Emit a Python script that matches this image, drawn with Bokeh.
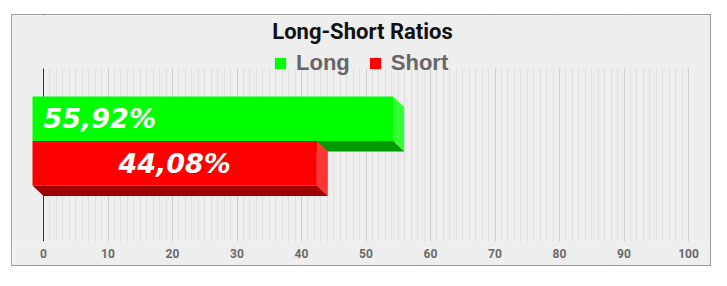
from bokeh.plotting import figure
from bokeh.models import Range1d, FixedTicker, Span, Label, Legend, LegendItem, BoxAnnotation
from bokeh.embed import file_html
from bokeh.resources import INLINE
from bokeh.core.properties import value

# ---- data ----
title_text = "Long-Short Ratios"
series = ["Long", "Short"]
ratios = [55.92, 44.08]
value_labels = ["55,92%", "44,08%"]
label_align = ["left", "center"]
front_colors = ["#00ff00", "#ff0000"]
side_colors = ["#33ff33", "#ff3434"]
bottom_colors = ["#009900", "#9e0000"]
major_ticks = list(range(0, 101, 10))
minor_ticks = list(range(0, 101, 1))

# ---- layout geometry ----
W, H = 700, 252
FRAME_BOTTOM = 26
FRAME_H = H - FRAME_BOTTOM          # frame covers whole box except the tick-label strip
GRID_TOP = FRAME_H - 53             # gridded plot area ends 53px below box top
ZERO_PX = 31
UNIT_PX = 6.45
x_start = -ZERO_PX / UNIT_PX
x_end = (W - ZERO_PX) / UNIT_PX
DEPTH_X = 11 / UNIT_PX
DEPTH_Y = 10.5
BAR_T = 44.5
SLOT_CENTER = 90.0

p = figure(width=W, height=H, x_range=Range1d(x_start, x_end), y_range=Range1d(0, FRAME_H),
           y_axis_location=None, toolbar_location=None, output_backend="svg", title_location=None,
           min_border_left=0, min_border_right=0, min_border_top=0, min_border_bottom=FRAME_BOTTOM,
           background_fill_color="#eeeeee", border_fill_color="#eeeeee", outline_line_color=None,
           margin=(14, 0, 0, 11), styles={"border": "1px solid #9c9c9c"})

ticker = FixedTicker(ticks=major_ticks, minor_ticks=minor_ticks)
p.xgrid.ticker = ticker
p.xgrid.grid_line_color = "#cdcdcd"
p.xgrid.minor_grid_line_color = "#dfdfdf"
p.ygrid.visible = False

ax = p.xaxis[0]
ax.ticker = ticker
ax.axis_line_color = None
ax.major_tick_line_color = None
ax.minor_tick_line_color = None
ax.major_tick_out = 0
ax.minor_tick_out = 0
ax.major_label_standoff = 7
ax.major_label_text_font = "Roboto"
ax.major_label_text_font_size = "12px"
ax.major_label_text_font_style = "bold"
ax.major_label_text_color = "#6a6a6a"

p.add_layout(Span(location=0, dimension="height", line_color="#333333", line_width=1, level="underlay"))
# plain strip above the gridded area (title / legend zone)
p.add_layout(BoxAnnotation(bottom=GRID_TOP, fill_color="#eeeeee", fill_alpha=1.0,
                           line_color=None, level="underlay"))

n = len(series)
items = []
for i in range(n):
    v = ratios[i]
    yb1 = SLOT_CENTER + (n / 2 - i) * BAR_T
    yb0 = yb1 - BAR_T
    side_x = [v, v, v - DEPTH_X, v - DEPTH_X]
    side_y = [yb0, yb1, yb1 + DEPTH_Y, yb0 + DEPTH_Y]
    bot_x = [0, v, v - DEPTH_X, -DEPTH_X]
    bot_y = [yb0, yb0, yb0 + DEPTH_Y, yb0 + DEPTH_Y]
    fr_x = [-DEPTH_X, v - DEPTH_X, v - DEPTH_X, -DEPTH_X]
    fr_y = [yb0 + DEPTH_Y, yb0 + DEPTH_Y, yb1 + DEPTH_Y, yb1 + DEPTH_Y]
    r = p.patches(xs=[side_x, bot_x, fr_x], ys=[side_y, bot_y, fr_y],
                  fill_color=[side_colors[i], bottom_colors[i], front_colors[i]],
                  line_color=None)
    items.append(LegendItem(label=series[i], renderers=[r], index=2))
    lx = 0 if label_align[i] == "left" else v / 2 - DEPTH_X
    p.text(x=[lx], y=[(yb0 + yb1) / 2 + DEPTH_Y], text=[value_labels[i]],
           text_font=value("DejaVu Sans"), text_font_style="bold italic", text_font_size="27px",
           text_color="white", text_align=label_align[i], text_baseline="middle")

legend = Legend(items=items, orientation="horizontal", location=(261, 165),
                glyph_width=14, glyph_height=14, label_standoff=9, spacing=18,
                padding=0, margin=0, border_line_color=None, background_fill_alpha=0,
                label_text_font="Liberation Sans", label_text_font_size="22px",
                label_text_font_style="bold", label_text_color="#666666")
p.add_layout(legend)

p.add_layout(Label(x=W / 2, y=FRAME_H - 15.5, x_units="screen", y_units="screen", text=title_text,
                   text_font="Roboto", text_font_size="22px", text_font_style="bold",
                   text_color="#111111", text_align="center", text_baseline="middle"))

open("out.html", "w").write(file_html(p, INLINE))
